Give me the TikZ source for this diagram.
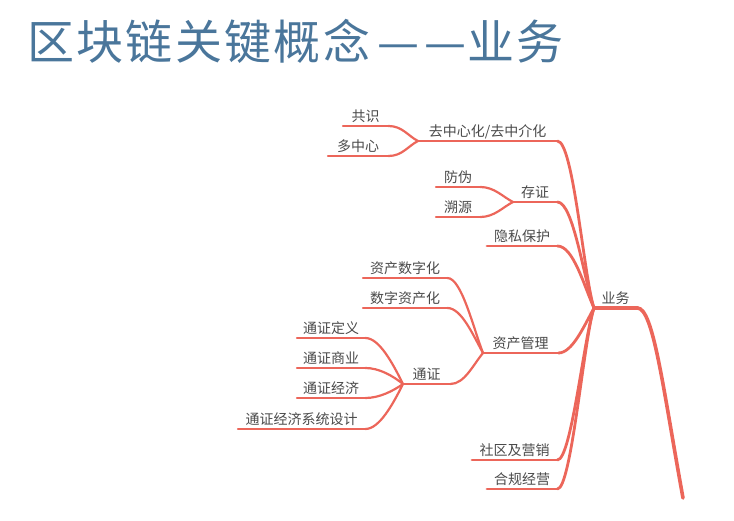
\documentclass[tikz,border=0pt]{standalone}
\usepackage{fontspec}
\setmainfont{Noto Sans CJK SC}
\usepackage{xcolor}
\definecolor{MapTitle}{HTML}{4A769B}
\definecolor{MapLine}{HTML}{EC665A}
\definecolor{MapText}{HTML}{4A4A4A}
\tikzset{
    % topic label sitting on its own underline
    topic/.style={
        anchor=south west,
        inner xsep=0pt,
        inner ysep=4pt,
        text depth=0pt,
        align=center,
        font=\fontsize{14}{15}\selectfont,
        text=MapText
    },
    % branch line styles
    rootline/.style={
        draw=MapLine,
        line width=3.6pt,
        line cap=round
    },
    mainline/.style={
        draw=MapLine,
        line width=2.8pt,
        line cap=round
    },
    subline/.style={
        draw=MapLine,
        line width=2.2pt,
        line cap=round
    }
}

\begin{document}
\begin{tikzpicture}[x=1pt, y=-1pt]
    \useasboundingbox (0,0) rectangle (734,521);

    \node[anchor=base west, inner sep=0pt, text=MapTitle,
          font=\addfontfeature{LetterSpace=5}\fontsize{47}{50}\selectfont]
          (title) at (27,60) {区块链关键概念\kern7pt—\kern5pt—\kern1pt业务};

    % root
    \node[topic, minimum width=43pt] (yewu) at (594,308) {业务};
    \coordinate (tail) at (683,498);

    % first level
    \node[topic, minimum width=139pt] (qzx) at (418,141) {去中心化/去中介化};
    \node[topic, minimum width=44pt] (cunzheng) at (513,202) {存证};
    \node[topic, minimum width=70pt] (yinsi) at (487,246) {隐私保护};
    \node[topic, minimum width=75pt] (zcgl) at (483,353) {资产管理};
    \node[topic, minimum width=85pt] (shequ) at (472,460) {社区及营销};
    \node[topic, minimum width=70pt] (hegui) at (487,489) {合规经营};

    % second level
    \node[topic, minimum width=45pt] (gongshi) at (343,126) {共识};
    \node[topic, minimum width=60pt] (duozx) at (328,156) {多中心};
    \node[topic, minimum width=44pt] (fangwei) at (436,187) {防伪};
    \node[topic, minimum width=44pt] (suyuan) at (436,217) {溯源};
    \node[topic, minimum width=84pt] (zcszh) at (363,278) {资产数字化};
    \node[topic, minimum width=84pt] (szzch) at (363,308) {数字资产化};
    \node[topic, minimum width=47pt] (tongzheng) at (403,384) {通证};

    % third level
    \node[topic, minimum width=68pt] (tzdy) at (297,338) {通证定义};
    \node[topic, minimum width=68pt] (tzsy) at (297,368) {通证商业};
    \node[topic, minimum width=68pt] (tzjj) at (297,398) {通证经济};
    \node[topic, minimum width=127pt] (tzjjxt) at (238,429) {通证经济系统设计};

    % underlines
    \draw[rootline] (yewu.south west) -- (yewu.south east);
    \foreach \n in {qzx, cunzheng, yinsi, zcgl, shequ, hegui}
        \draw[mainline] (\n.south west) -- (\n.south east);
    \foreach \n in {gongshi, duozx, fangwei, suyuan, zcszh, szzch, tongzheng,
                    tzdy, tzsy, tzjj, tzjjxt}
        \draw[subline] (\n.south west) -- (\n.south east);

    % root tail
    \draw[rootline] (yewu.south east) .. controls +(16,0) and +(-20,-110) .. (tail);

    % first level to root
    \draw[mainline] (qzx.south east) .. controls +(16,0) and +(-10,-30) .. (yewu.south west);
    \draw[mainline] (cunzheng.south east) .. controls +(16,0) and +(-10,-28) .. (yewu.south west);
    \draw[mainline] (yinsi.south east) .. controls +(16,0) and +(-10,-22) .. (yewu.south west);
    \draw[mainline] (zcgl.south east) .. controls +(14,0) and +(-10,18) .. (yewu.south west);
    \draw[mainline] (shequ.south east) .. controls +(14,0) and +(-10,28) .. (yewu.south west);
    \draw[mainline] (hegui.south east) .. controls +(14,0) and +(-10,30) .. (yewu.south west);

    % second level
    \draw[subline] (gongshi.south east) .. controls +(14,0) and +(-10,-5) .. (qzx.south west);
    \draw[subline] (duozx.south east) .. controls +(14,0) and +(-10,5) .. (qzx.south west);
    \draw[subline] (fangwei.south east) .. controls +(14,0) and +(-10,-5) .. (cunzheng.south west);
    \draw[subline] (suyuan.south east) .. controls +(14,0) and +(-10,5) .. (cunzheng.south west);
    \draw[subline] (zcszh.south east) .. controls +(14,0) and +(-10,-26) .. (zcgl.south west);
    \draw[subline] (szzch.south east) .. controls +(14,0) and +(-10,-18) .. (zcgl.south west);
    \draw[subline] (tongzheng.south east) .. controls +(14,0) and +(-10,12) .. (zcgl.south west);

    % third level
    \draw[subline] (tzdy.south east) .. controls +(14,0) and +(-10,-20) .. (tongzheng.south west);
    \draw[subline] (tzsy.south east) .. controls +(14,0) and +(-10,-8) .. (tongzheng.south west);
    \draw[subline] (tzjj.south east) .. controls +(14,0) and +(-10,7) .. (tongzheng.south west);
    \draw[subline] (tzjjxt.south east) .. controls +(14,0) and +(-10,20) .. (tongzheng.south west);
\end{tikzpicture}
\end{document}
